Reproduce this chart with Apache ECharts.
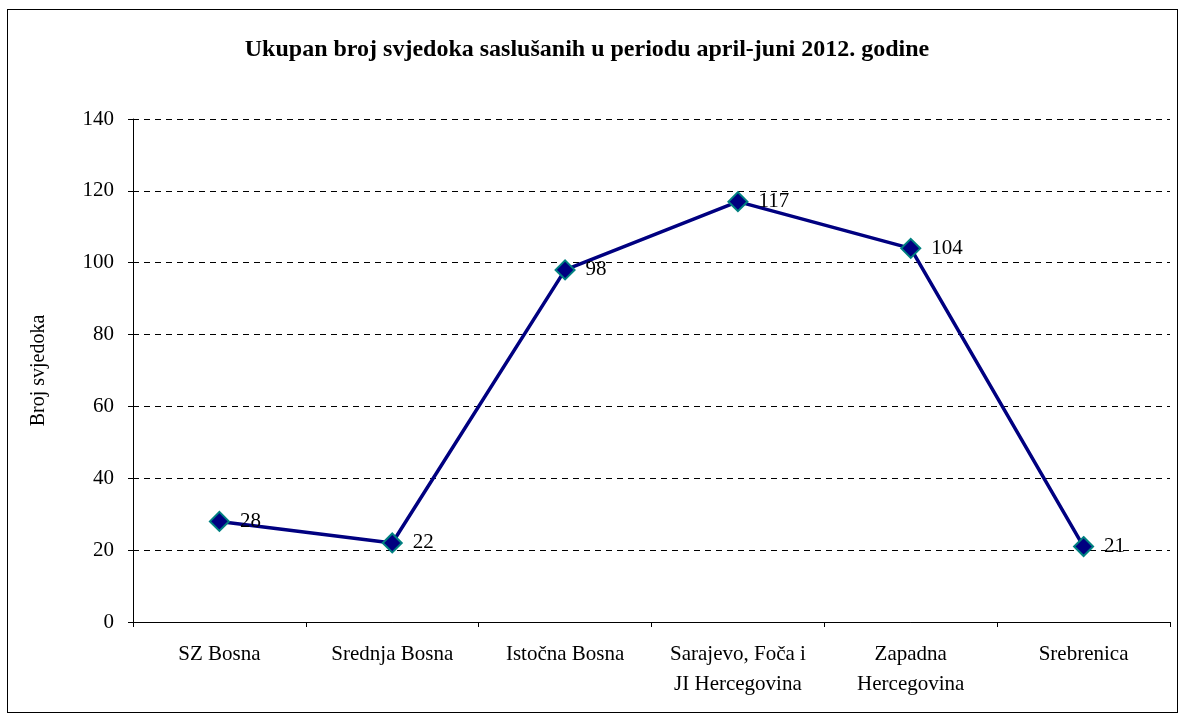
<!DOCTYPE html>
<html>
<head>
<meta charset="utf-8">
<script src="https://cdn.jsdelivr.net/npm/echarts@6/dist/echarts.min.js"></script>
<style>
  html, body { margin: 0; padding: 0; background: #fff; }
  #frame { position: absolute; left: 7px; top: 9px; width: 1169px; height: 702px; border: 1px solid #000; }
  #main { position: absolute; left: 0; top: 0; width: 1180px; height: 715px; }
</style>
</head>
<body>
<div id="frame"></div>
<div id="main"></div>
<script>
// podaci
var categories = ['SZ Bosna', 'Srednja Bosna', 'Istočna Bosna', 'Sarajevo, Foča i\nJI Hercegovina', 'Zapadna\nHercegovina', 'Srebrenica'];
var values = [28, 22, 98, 117, 104, 21];
var chartTitle = 'Ukupan broj svjedoka saslušanih u periodu april-juni 2012. godine';
var yName = 'Broj svjedoka';

var myChart = echarts.init(document.getElementById('main'));
var serif = '"Liberation Serif", "DejaVu Serif", serif';

var option = {
  animation: false,
  title: {
    text: chartTitle,
    left: 582,
    top: 33,
    textAlign: 'center',
    textStyle: { fontFamily: serif, fontSize: 24, fontWeight: 'bold', color: '#000' }
  },
  grid: { left: 133, right: 10, top: 119, bottom: 93 },
  xAxis: {
    type: 'category',
    data: categories,
    boundaryGap: true,
    axisLine: { lineStyle: { color: '#000', width: 1 } },
    axisTick: { show: true, alignWithLabel: false, length: 5, lineStyle: { color: '#000' } },
    axisLabel: { fontFamily: serif, fontSize: 21, color: '#000', margin: 17, lineHeight: 30, interval: 0 }
  },
  yAxis: {
    type: 'value',
    min: 0,
    max: 140,
    interval: 20,
    name: yName,
    nameLocation: 'middle',
    nameGap: 84,
    nameTextStyle: { fontFamily: serif, fontSize: 20, color: '#000' },
    axisLine: { show: true, lineStyle: { color: '#000', width: 1 } },
    axisTick: { show: true, inside: false, length: 5, lineStyle: { color: '#000' } },
    axisLabel: { fontFamily: serif, fontSize: 21, color: '#000', margin: 19 },
    splitLine: { show: true, lineStyle: { color: '#000', type: [6, 5], width: 1 } }
  },
  series: [{
    type: 'line',
    data: values,
    symbol: 'diamond',
    symbolSize: 19,
    lineStyle: { color: '#000080', width: 3.5 },
    itemStyle: { color: '#000080', borderColor: '#008080', borderWidth: 2 },
    label: {
      show: true,
      position: 'right',
      distance: 10,
      fontFamily: serif,
      fontSize: 21,
      color: '#000'
    }
  }]
};
myChart.setOption(option);
</script>
</body>
</html>
